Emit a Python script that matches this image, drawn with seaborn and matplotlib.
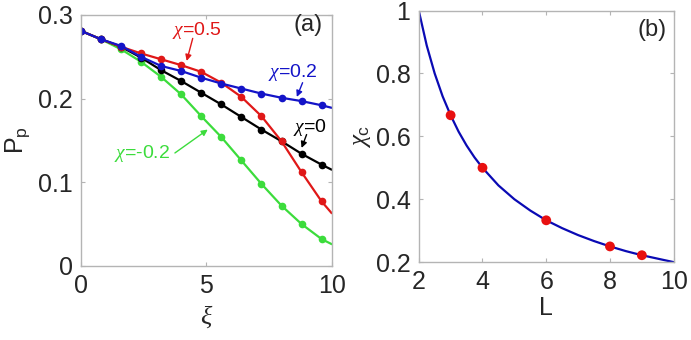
import numpy as np
import pandas as pd
import matplotlib
matplotlib.use("Agg")
import matplotlib.pyplot as plt
import seaborn as sns

# -------------------------------------------------------------
# Dati
# -------------------------------------------------------------
# pannello (a): P_p in funzione di xi, marker ogni 0.8, ultimo punto a 10 solo linea
xi = [0, 0.8, 1.6, 2.4, 3.2, 4.0, 4.8, 5.6, 6.4, 7.2, 8.0, 8.8, 9.6, 10.0]
pp_chi_m02 = [0.281, 0.271, 0.259, 0.244, 0.226, 0.205, 0.179, 0.154, 0.126, 0.098, 0.072, 0.050, 0.032, 0.026]
pp_chi_0 = [0.281, 0.271, 0.262, 0.249, 0.234, 0.221, 0.207, 0.193, 0.178, 0.163, 0.149, 0.134, 0.121, 0.115]
pp_chi_02 = [0.281, 0.271, 0.263, 0.250, 0.239, 0.233, 0.225, 0.218, 0.212, 0.206, 0.201, 0.197, 0.192, 0.189]
pp_chi_05 = [0.281, 0.271, 0.262, 0.254, 0.247, 0.240, 0.232, 0.219, 0.202, 0.179, 0.149, 0.112, 0.077, 0.063]

# pannello (b): chi_c in funzione di L
L_curve = [2.0, 2.25, 2.5, 2.75, 3.0, 3.25, 3.5, 3.75, 4.0, 4.5, 5.0, 5.5, 6.0, 6.5, 7.0, 7.5, 8.0, 8.5, 9.0, 9.5, 10.0]
chi_curve = [1.0, 0.889, 0.800, 0.727, 0.667, 0.615, 0.571, 0.533, 0.500, 0.444, 0.400, 0.364,
             0.333, 0.308, 0.286, 0.267, 0.250, 0.235, 0.222, 0.211, 0.200]
L_pts = [3, 4, 6, 8, 9]
chi_pts = [0.667, 0.500, 0.333, 0.250, 0.222]

# -------------------------------------------------------------
# Stile (tipo MATLAB)
# -------------------------------------------------------------
sns.set_style("ticks")
plt.rcParams['font.family'] = ['Liberation Sans', 'DejaVu Sans']
plt.rcParams['mathtext.fontset'] = 'custom'
plt.rcParams['mathtext.rm'] = 'Liberation Sans'
plt.rcParams['mathtext.it'] = 'Liberation Serif:italic'
plt.rcParams['mathtext.sf'] = 'Liberation Sans'

grigio = '#b4b4b4'
testo = '#262626'
col = {'-0.2': '#3cdc3c', '0': 'black', '0.2': '#1414c8', '0.5': '#e01818'}

fig = plt.figure(figsize=(6.91, 3.40), dpi=100)
ax1 = fig.add_axes([0.117, 0.218, 0.363, 0.738])
ax2 = fig.add_axes([0.606, 0.229, 0.369, 0.740])


def stile_assi(ax):
    for s in ax.spines.values():
        s.set_color(grigio)
        s.set_linewidth(1.0)
    ax.tick_params(direction='in', length=3, width=0.8, color=grigio, labelsize=18,
                   labelcolor=testo, top=True, right=True, pad=6)


# -------------------------------------------------------------
# Pannello (a)
# -------------------------------------------------------------
serie = [('-0.2', pp_chi_m02), ('0', pp_chi_0), ('0.5', pp_chi_05), ('0.2', pp_chi_02)]
for chi, vals in serie:
    df = pd.DataFrame({'xi': xi, 'P': vals})
    sns.lineplot(data=df, x='xi', y='P', ax=ax1, color=col[chi], lw=1.6)
    sns.lineplot(data=df.iloc[:-1], x='xi', y='P', ax=ax1, color=col[chi], lw=0,
                 marker='o', markersize=5.5, markeredgewidth=0)

ax1.set_xlim(0, 10)
ax1.set_ylim(0, 0.3)
ax1.set_xticks([0, 5, 10])
ax1.set_yticks([0, 0.1, 0.2, 0.3])
ax1.set_yticklabels(['0', '0.1', '0.2', '0.3'])
ax1.set_xlabel(r'$\xi$', fontsize=19, color=testo, labelpad=4)
ax1.set_ylabel(r'$\mathrm{P_p}$', fontsize=18, color=testo, labelpad=4)
stile_assi(ax1)

# etichette con freccia
etichette = [
    ('0.5', (4.62, 0.281), (4.46, 0.272), (4.22, 0.245)),
    ('0.2', (8.45, 0.231), (8.84, 0.219), (8.61, 0.202)),
    ('0', (9.12, 0.166), (9.00, 0.157), (8.80, 0.141)),
    ('-0.2', (2.43, 0.134), (3.75, 0.135), (5.06, 0.163)),
]
for chi, pos_txt, coda, punta in etichette:
    ax1.text(pos_txt[0], pos_txt[1], r'$\chi$=' + chi, color=col[chi], fontsize=14,
             ha='center', va='center')
    ax1.annotate('', xy=punta, xytext=coda,
                 arrowprops=dict(arrowstyle='-|>', color=col[chi], lw=1.0,
                                 mutation_scale=9, shrinkA=0, shrinkB=0))
ax1.text(9.04, 0.288, '(a)', fontsize=17, color=testo, ha='center', va='center')

# -------------------------------------------------------------
# Pannello (b)
# -------------------------------------------------------------
sns.lineplot(x=L_curve, y=chi_curve, ax=ax2, color='#0a0ab4', lw=1.6)
sns.scatterplot(x=L_pts, y=chi_pts, ax=ax2, color='#e81010', s=50, edgecolor='none', zorder=3)
ax2.set_xlim(2, 10)
ax2.set_ylim(0.2, 1.0)
ax2.set_xticks([2, 4, 6, 8, 10])
ax2.set_yticks([0.2, 0.4, 0.6, 0.8, 1.0])
ax2.set_yticklabels(['0.2', '0.4', '0.6', '0.8', '1'])
ax2.set_xlabel('L', fontsize=18, color=testo, labelpad=1)
ax2.set_ylabel(r'$\chi_\mathrm{c}$', fontsize=18, color=testo, labelpad=2)
stile_assi(ax2)
ax2.text(9.31, 0.937, '(b)', fontsize=17, color=testo, ha='center', va='center')

fig.savefig('out.png', dpi=100)
